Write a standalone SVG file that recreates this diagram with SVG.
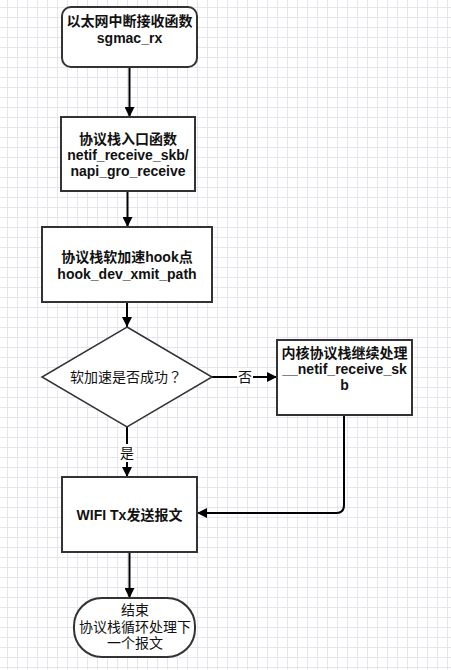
<svg xmlns="http://www.w3.org/2000/svg" width="451" height="670" viewBox="0 0 451 670">
  <defs>
    <pattern id="grid" x="0" y="0" width="10" height="10" patternUnits="userSpaceOnUse">
      <path d="M7.5 0V10M0 7.5H10" fill="none" stroke="#e6e4f3" stroke-width="1"/>
    </pattern>
    <marker id="arrow" viewBox="0 0 10 10" refX="10" refY="5" markerWidth="10" markerHeight="10" markerUnits="userSpaceOnUse" orient="auto">
      <path d="M0 0L10 5L0 10Z" fill="#000"/>
    </marker>
    <style>
      .box { fill: #fff; stroke: #333; stroke-width: 2; }
      .dia { fill: #fff; stroke: #333; stroke-width: 1.5; }
      .edge { fill: none; stroke: #000; stroke-width: 2; marker-end: url(#arrow); }
      text { font-family: "Liberation Sans", "Noto Sans CJK SC", sans-serif; font-size: 14px; fill: #111; text-anchor: middle; }
      .b { font-weight: bold; }
      .q { font-family: "Noto Sans CJK TC", sans-serif; }
      .lbl { fill: #fff; }
    </style>
  </defs>

  <rect width="451" height="670" fill="#fff"/>
  <rect width="451" height="670" fill="url(#grid)"/>

  <!-- connectors -->
  <g id="edges">
    <path class="edge" d="M129.5 67V117"/>
    <path class="edge" d="M127.5 191V227"/>
    <path class="edge" d="M127 302V327"/>
    <path class="edge" d="M212 377H277"/>
    <rect class="lbl" x="237" y="368" width="16" height="18"/>
    <text x="245" y="382">否</text>
    <path class="edge" d="M127 427V477"/>
    <rect class="lbl" x="119" y="444" width="16" height="18"/>
    <text x="127" y="458">是</text>
    <path class="edge" d="M344 415V505Q344 513 336 513H197"/>
    <path class="edge" d="M129.5 552V598"/>
  </g>

  <!-- nodes -->
  <g id="n-rx">
    <rect class="box" x="62" y="7" width="135" height="60" rx="9"/>
    <text class="b" x="129.5" y="26">以太网中断接收函数</text>
    <text class="b" x="129.5" y="43">sgmac_rx</text>
  </g>

  <g id="n-entry">
    <rect class="box" x="61" y="117" width="134" height="74"/>
    <text class="b" x="128" y="144">协议栈入口函数</text>
    <text class="b" x="128" y="160">netif_receive_skb/</text>
    <text class="b" x="128" y="176">napi_gro_receive</text>
  </g>

  <g id="n-hook">
    <rect class="box" x="42" y="227" width="170" height="75"/>
    <text class="b" x="127" y="262">协议栈软加速hook点</text>
    <text class="b" x="127" y="279">hook_dev_xmit_path</text>
  </g>

  <g id="n-check">
    <path class="dia" d="M127 327L212 377L127 427L42 377Z"/>
    <text x="126" y="382">软加速是否成功<tspan class="q">？</tspan></text>
  </g>

  <g id="n-kernel">
    <rect class="box" x="277" y="340" width="135" height="75"/>
    <text class="b" x="344.5" y="358">内核协议栈继续处理</text>
    <text class="b" x="344.5" y="374">__netif_receive_sk</text>
    <text class="b" x="344.5" y="390">b</text>
  </g>

  <g id="n-wifi">
    <rect class="box" x="62" y="477" width="135" height="75"/>
    <text class="b" x="129.5" y="520">WIFI Tx发送报文</text>
  </g>

  <g id="n-end">
    <rect class="box" x="74" y="598" width="121" height="59" rx="28" ry="28"/>
    <text x="135" y="615">结束</text>
    <text x="135" y="632">协议栈循环处理下</text>
    <text x="135" y="648">一个报文</text>
  </g>
</svg>
